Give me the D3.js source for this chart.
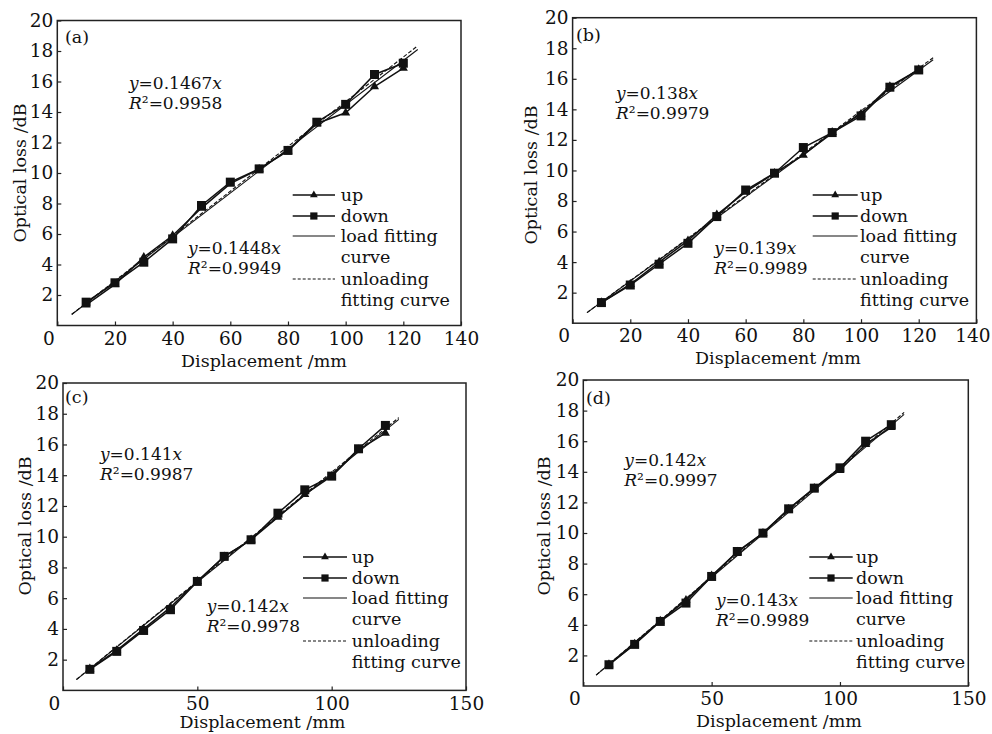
<!DOCTYPE html>
<html>
<head>
<meta charset="utf-8">
<script src="https://cdn.jsdelivr.net/npm/d3@7"></script>
<style>
  html, body { margin: 0; padding: 0; background: #fff; }
  svg { display: block; }
  text { font-family: "DejaVu Serif", "Liberation Serif", serif; fill: #111; }
</style>
</head>
<body>
<svg id="chart" width="992" height="734"></svg>
<script>
// ---------------- DATA ----------------
const displacement = [10, 20, 30, 40, 50, 60, 70, 80, 90, 100, 110, 120];

const upA   = [1.35, 2.70, 4.48, 5.90, 7.70, 9.30, 10.25, 11.45, 13.25, 13.95, 15.67, 16.87];
const downA = [1.53, 2.80, 4.15, 5.68, 7.87, 9.40, 10.27, 11.48, 13.33, 14.50, 16.46, 17.20];

const upB   = [1.35, 2.55, 4.00, 5.40, 7.10, 8.60, 9.82, 11.00, 12.50, 13.70, 15.50, 16.60];
const downB = [1.35, 2.50, 3.86, 5.23, 6.98, 8.72, 9.82, 11.50, 12.48, 13.57, 15.45, 16.58];

const upC   = [1.40, 2.60, 4.00, 5.40, 7.10, 8.70, 9.80, 11.27, 12.75, 13.94, 15.65, 16.74];
const downC = [1.37, 2.54, 3.90, 5.25, 7.09, 8.72, 9.80, 11.53, 13.05, 13.94, 15.72, 17.24];

const upD   = [1.40, 2.75, 4.25, 5.60, 7.20, 8.75, 9.99, 11.55, 12.93, 14.10, 15.80, 16.90];
const downD = [1.39, 2.72, 4.22, 5.42, 7.16, 8.79, 9.99, 11.58, 12.93, 14.26, 16.00, 17.08];

// fitted straight lines (endpoints, y = k x)
const fitX = [5, 125];
const loadFitA   = [0.724, 18.10];   // y=0.1448x
const unloadFitA = [0.734, 18.34];   // y=0.1467x
const loadFitB   = [0.690, 17.25];   // y=0.138x
const unloadFitB = [0.695, 17.38];   // y=0.139x
const loadFitC   = [0.705, 17.63];   // y=0.141x
const unloadFitC = [0.710, 17.75];   // y=0.142x
const loadFitD   = [0.710, 17.75];   // y=0.142x
const unloadFitD = [0.715, 17.88];   // y=0.143x

const eqTopA = ["0.1467", "0.9958"], eqBotA = ["0.1448", "0.9949"];
const eqTopB = ["0.138", "0.9979"],  eqBotB = ["0.139", "0.9989"];
const eqTopC = ["0.141", "0.9987"],  eqBotC = ["0.142", "0.9978"];
const eqTopD = ["0.142", "0.9997"],  eqBotD = ["0.143", "0.9989"];

const xTicksAB = [0, 20, 40, 60, 80, 100, 120, 140];
const xTicksCD = [0, 50, 100, 150];
const yTicks = [2, 4, 6, 8, 10, 12, 14, 16, 18, 20];

const legendLabels = ["up", "down", "load fitting", "curve", "unloading", "fitting curve"];
const xTitle = "Displacement /mm";
const yTitle = "Optical loss /dB";

// ---------------- LAYOUT ----------------
const panels = [
  { tag: "(a)", up: upA, down: downA, load: loadFitA, unload: unloadFitA, xMax: 140, xTicks: xTicksAB,
    x0: 57.3, x1: 461, y0: 325.5, y1: 20.5, lab: [65, 37], lastDx: 0,
    eq1: [129, 83, eqTopA], eq2: [188, 248, eqBotA], leg: [292.7, 335, 340.7, 195],
    xt: [264, 361], yt: [20, 173] },
  { tag: "(b)", up: upB, down: downB, load: loadFitB, unload: unloadFitB, xMax: 140, xTicks: xTicksAB,
    x0: 572.6, x1: 976.4, y0: 323.2, y1: 17.7, lab: [576, 35], lastDx: -4,
    eq1: [616, 93, eqTopB], eq2: [714.3, 248, eqBotB], leg: [812.7, 857.7, 860, 195],
    xt: [778, 358], yt: [531.3, 175] },
  { tag: "(c)", up: upC, down: downC, load: loadFitC, unload: unloadFitC, xMax: 150, xTicks: xTicksCD,
    x0: 63, x1: 466, y0: 690.4, y1: 383, lab: [65, 397], lastDx: 0,
    eq1: [100, 454.3, eqTopC], eq2: [206.7, 606.3, eqBotC], leg: [303, 347, 351.7, 557],
    xt: [262.5, 722], yt: [25, 526] },
  { tag: "(d)", up: upD, down: downD, load: loadFitD, unload: unloadFitD, xMax: 150, xTicks: xTicksCD,
    x0: 583.3, x1: 968.3, y0: 686, y1: 380, lab: [586, 397.7], lastDx: 0,
    eq1: [624.3, 460.3, eqTopD], eq2: [716, 600.3, eqBotD], leg: [809.3, 852.7, 856, 557],
    xt: [779, 721], yt: [543.5, 526] }
];

const svg = d3.select("#chart");
const FS = 17.5;      // titles, legend
const TFS = 18.5;     // tick labels
const EFS = 17;       // equations

function drawPanel(p) {
  const g = svg.append("g");
  const x = d3.scaleLinear().domain([0, p.xMax]).range([p.x0, p.x1]);
  const y = d3.scaleLinear().domain([0, 20]).range([p.y0, p.y1]);

  // frame
  g.append("rect").attr("x", p.x0).attr("y", p.y1)
    .attr("width", p.x1 - p.x0).attr("height", p.y0 - p.y1)
    .attr("fill", "none").attr("stroke", "#222").attr("stroke-width", 1.5);

  // axes
  const xa = g.append("g").attr("transform", `translate(0,${p.y0})`)
    .call(d3.axisBottom(x).tickValues(p.xTicks).tickSizeInner(-4).tickSizeOuter(0).tickPadding(6)
      .tickFormat(d3.format("d")));
  const ya = g.append("g").attr("transform", `translate(${p.x0},0)`)
    .call(d3.axisLeft(y).tickValues(yTicks).tickSizeInner(-4).tickSizeOuter(0).tickPadding(4)
      .tickFormat(d3.format("d")));
  [xa, ya].forEach(a => {
    a.select(".domain").remove();
    a.selectAll(".tick line").attr("stroke", "#222").attr("stroke-width", 1.2);
    a.selectAll(".tick text").attr("font-size", TFS).attr("font-family", "DejaVu Serif").attr("fill", "#111");
  });
  xa.selectAll(".tick text").filter(d => d === 0).attr("dx", -9);
  xa.selectAll(".tick text").filter(d => d === p.xMax).attr("dx", p.lastDx);

  // axis titles
  g.append("text").attr("x", p.xt[0]).attr("y", p.xt[1]).attr("text-anchor", "middle")
    .attr("dominant-baseline", "central").attr("font-size", FS).text(xTitle);
  g.append("text").attr("transform", `translate(${p.yt[0]},${p.yt[1]}) rotate(-90)`)
    .attr("text-anchor", "middle").attr("dominant-baseline", "central").attr("font-size", FS).text(yTitle);

  // panel tag
  g.append("text").attr("x", p.lab[0]).attr("y", p.lab[1]).attr("dominant-baseline", "central")
    .attr("font-size", FS).text(p.tag);

  // fit lines
  const fitLine = d3.line().x((d, i) => x(fitX[i])).y(d => y(d));
  g.append("path").attr("d", fitLine(p.load)).attr("fill", "none")
    .attr("stroke", "#111").attr("stroke-width", 1.1);
  g.append("path").attr("d", fitLine(p.unload)).attr("fill", "none")
    .attr("stroke", "#111").attr("stroke-width", 1.1).attr("stroke-dasharray", "4,2");

  // data series
  const line = d3.line().x((d, i) => x(displacement[i])).y(d => y(d));
  g.append("path").attr("d", line(p.up)).attr("fill", "none").attr("stroke", "#111").attr("stroke-width", 1.5);
  g.append("path").attr("d", line(p.down)).attr("fill", "none").attr("stroke", "#111").attr("stroke-width", 1.5);
  const tri = d3.symbol(d3.symbolTriangle).size(36);
  const sq = d3.symbol(d3.symbolSquare).size(81);
  g.selectAll(".tri").data(p.up).enter().append("path")
    .attr("d", tri).attr("fill", "#111")
    .attr("transform", (d, i) => `translate(${x(displacement[i])},${y(d)})`);
  g.selectAll(".sq").data(p.down).enter().append("path")
    .attr("d", sq).attr("fill", "#111")
    .attr("transform", (d, i) => `translate(${x(displacement[i])},${y(d)})`);

  // equations
  [p.eq1, p.eq2].forEach(e => {
    const t1 = g.append("text").attr("x", e[0]).attr("y", e[1]).attr("dominant-baseline", "central").attr("font-size", EFS);
    t1.append("tspan").attr("font-style", "italic").text("y");
    t1.append("tspan").text("=" + e[2][0]);
    t1.append("tspan").attr("font-style", "italic").text("x");
    const t2 = g.append("text").attr("x", e[0]).attr("y", e[1] + 20).attr("dominant-baseline", "central").attr("font-size", EFS);
    t2.append("tspan").attr("font-style", "italic").text("R");
    t2.append("tspan").text("\u00B2=" + e[2][1]);
  });

  // legend
  const [lx0, lx1, tx, ly] = p.leg;
  const rowY = [0, 21, 41, 62, 84, 105].map(d => ly + d);
  legendLabels.forEach((lab, i) => {
    g.append("text").attr("x", tx).attr("y", rowY[i]).attr("dominant-baseline", "central")
      .attr("font-size", FS).text(lab);
  });
  const lineRows = [0, 1, 2, 4];
  lineRows.forEach((r, k) => {
    g.append("line").attr("x1", lx0).attr("x2", lx1).attr("y1", rowY[r]).attr("y2", rowY[r])
      .attr("stroke", "#111").attr("stroke-width", k < 2 ? 1.3 : 1.1)
      .attr("stroke-dasharray", r === 4 ? "3,2" : null);
  });
  const mx = (lx0 + lx1) / 2;
  g.append("path").attr("d", d3.symbol(d3.symbolTriangle).size(26)).attr("fill", "#111")
    .attr("transform", `translate(${mx},${rowY[0]})`);
  g.append("path").attr("d", d3.symbol(d3.symbolSquare).size(52)).attr("fill", "#111")
    .attr("transform", `translate(${mx},${rowY[1]})`);
}

panels.forEach(drawPanel);
</script>
</body>
</html>
